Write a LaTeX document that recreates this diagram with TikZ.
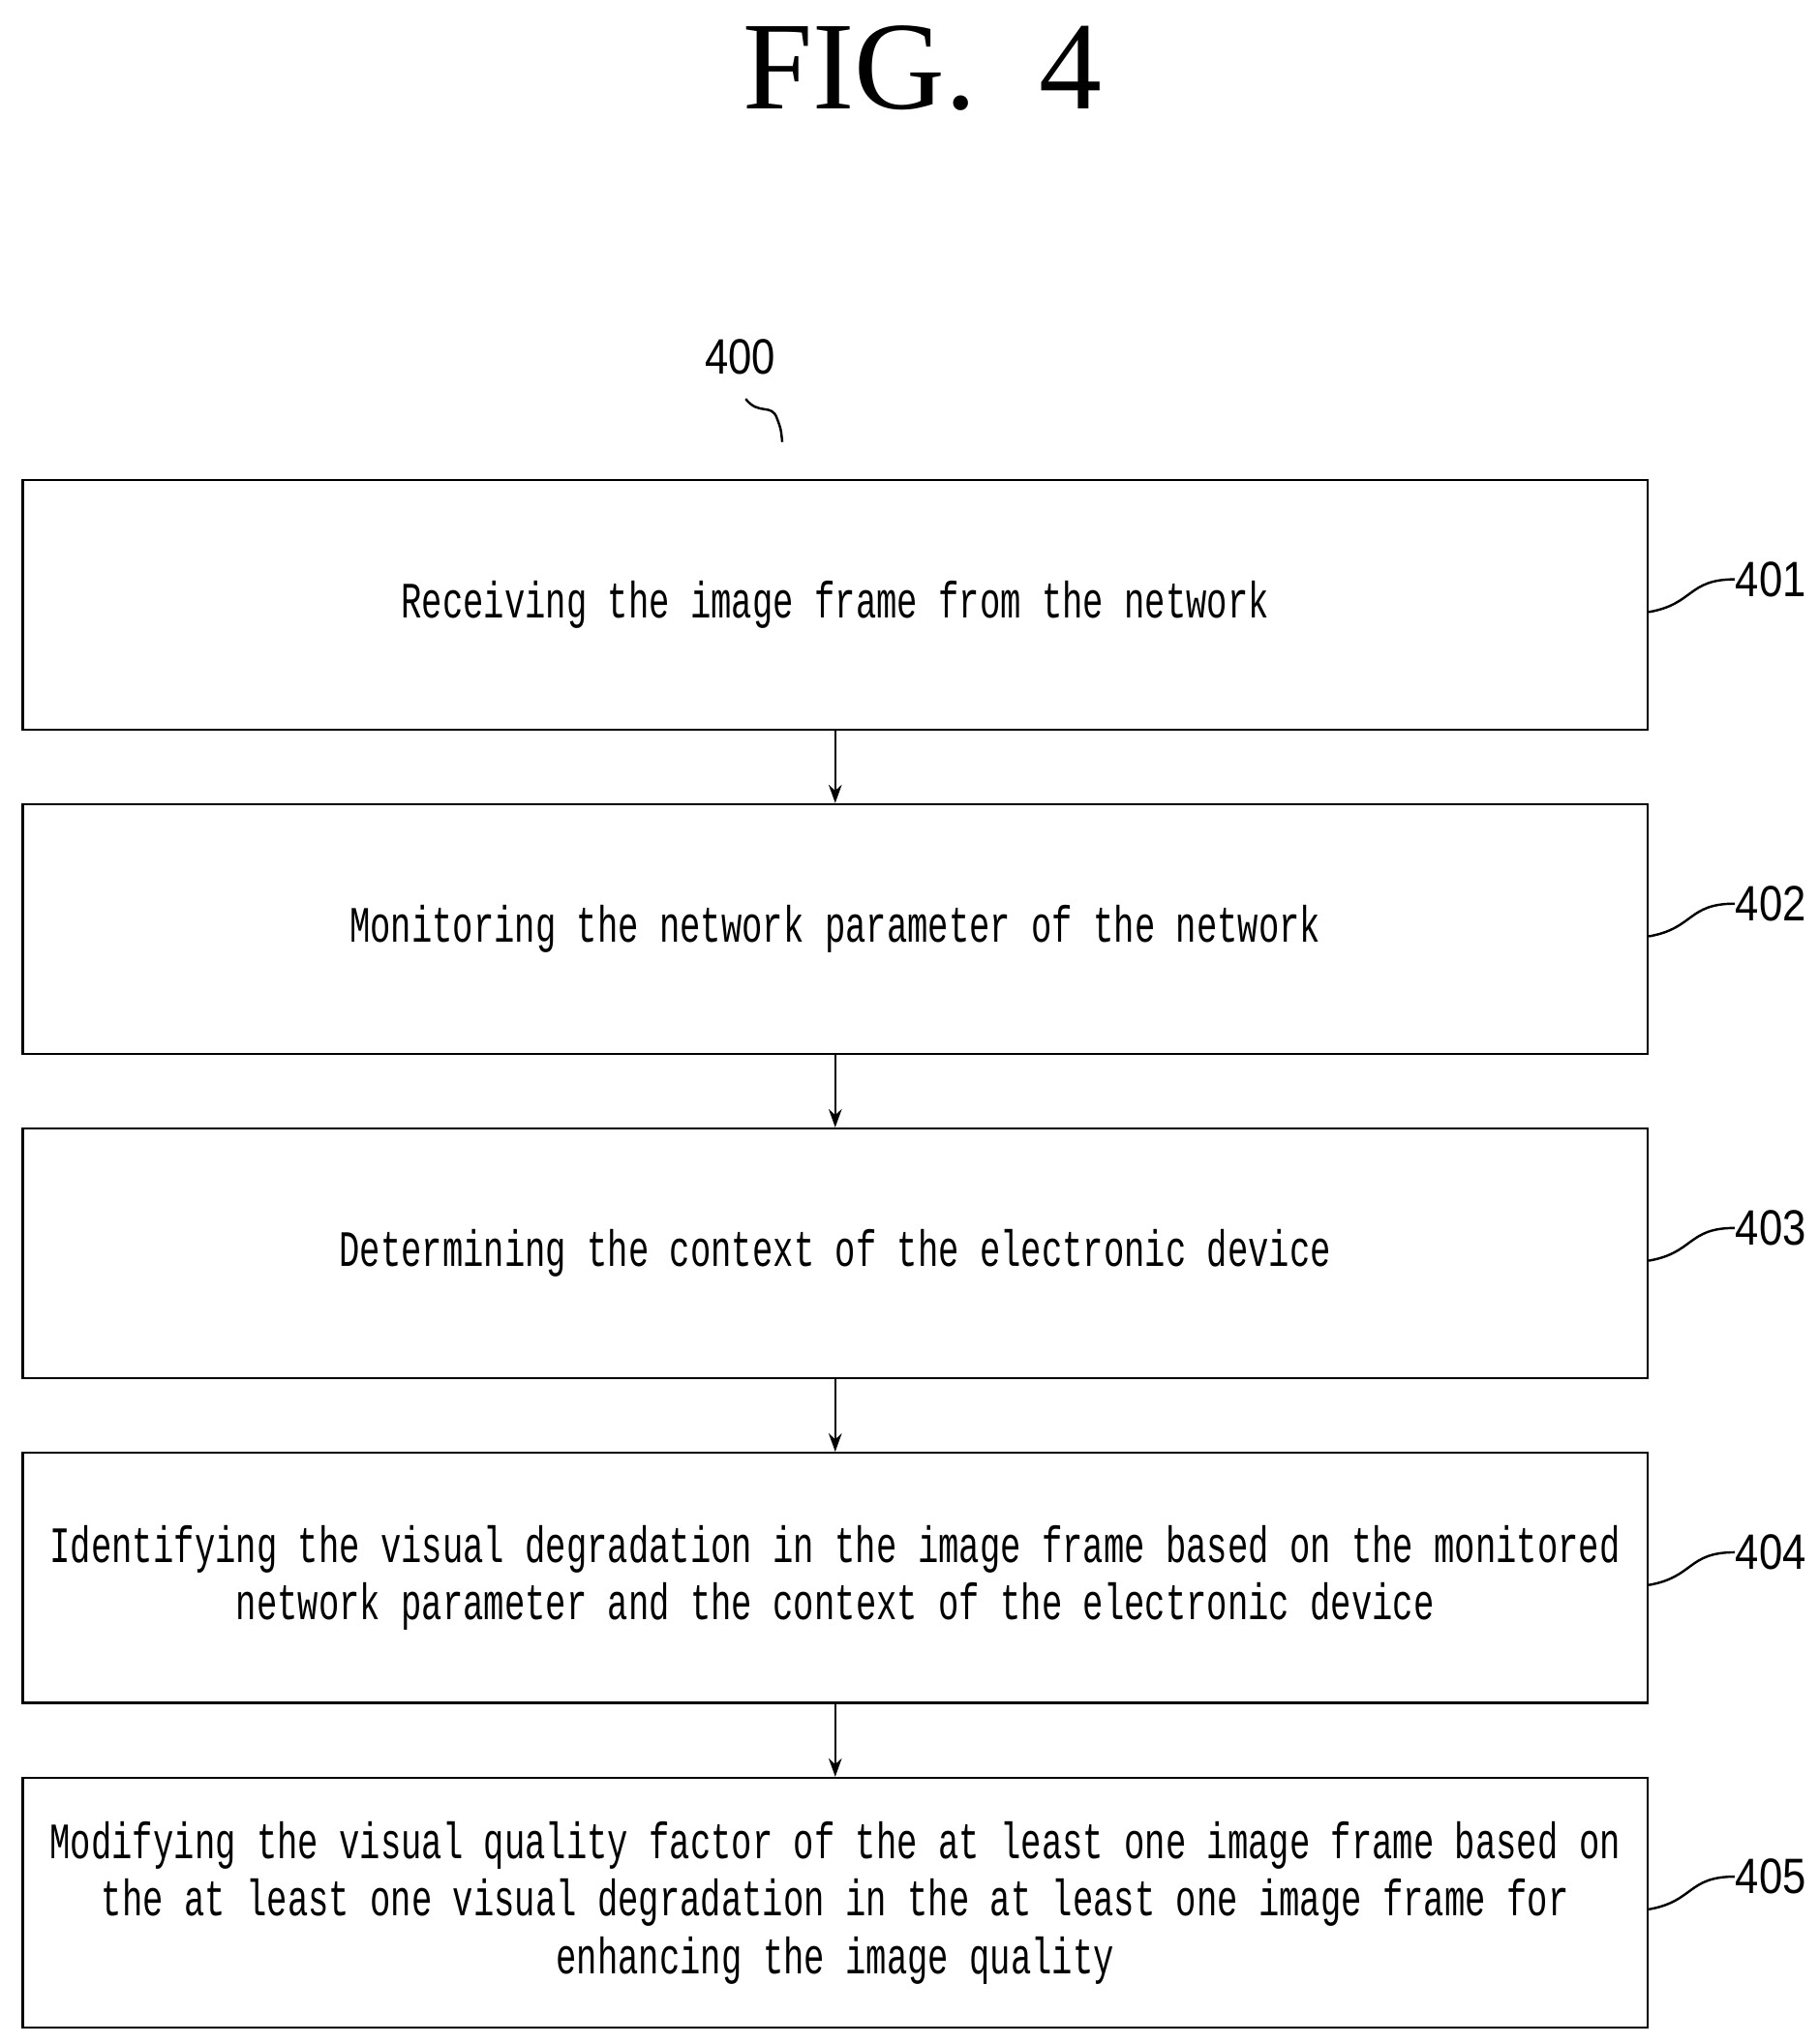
\documentclass[tikz,border=0pt]{standalone}
\usepackage{fontspec}
\setmainfont{Liberation Serif}
\newfontfamily\bxf[FakeStretch=0.675]{Liberation Mono}
\newfontfamily\lbf[FakeStretch=0.85]{Liberation Sans}
\usetikzlibrary{arrows.meta}
\begin{document}
\begin{tikzpicture}[x=0.5pt,y=-0.5pt,line width=0.9pt,
  box/.style={draw,minimum width=621pt,minimum height=95.5pt,align=center,inner sep=0pt,font=\bxf\fontsize{19.5}{22}\selectfont},
  lbl/.style={font=\lbf\fontsize{19}{22}\selectfont,anchor=west,inner sep=0pt},
  arr/.style={-{Stealth[length=7pt,width=5pt]}}]
\useasboundingbox (0,0) rectangle (1390,1563);
\node[font=\fontsize{48}{55}\selectfont] (fig) at (705,52) {FIG.\ \ 4};
\node[lbl] (l400) at (538,273) {400};
\draw (570,305) .. controls (580,318) and (590,308) .. (594,320) .. controls (597,328) .. (598,338);
\node[box] (b1) at (638.5,462.5) {Receiving the image frame from the network};
\node[box] (b2) at (638.5,710.5) {Monitoring the network parameter of the network};
\node[box] (b3) at (638.5,958.5) {Determining the context of the electronic device};
\node[box] (b4) at (638.5,1206.5) {Identifying the visual degradation in the image frame based on the monitored\\network parameter and the context of the electronic device};
\node[box] (b5) at (638.5,1455) {Modifying the visual quality factor of the at least one image frame based on\\the at least one visual degradation in the at least one image frame for\\enhancing the image quality};
\foreach \a/\b in {b1/b2,b2/b3,b3/b4,b4/b5} \draw[arr] (\a.south) -- (\b.north);
\foreach \i/\n in {1/401,2/402,3/403,4/404,5/405}{
  \node[lbl] (n\n) at (1326,{443+248*(\i-1)}) {\n};
  \draw (b\i.east |- 0,{468+248*(\i-1)}) .. controls (1295,{462+248*(\i-1)}) and (1290,{443+248*(\i-1)}) .. (n\n.west);
}
\end{tikzpicture}
\end{document}
